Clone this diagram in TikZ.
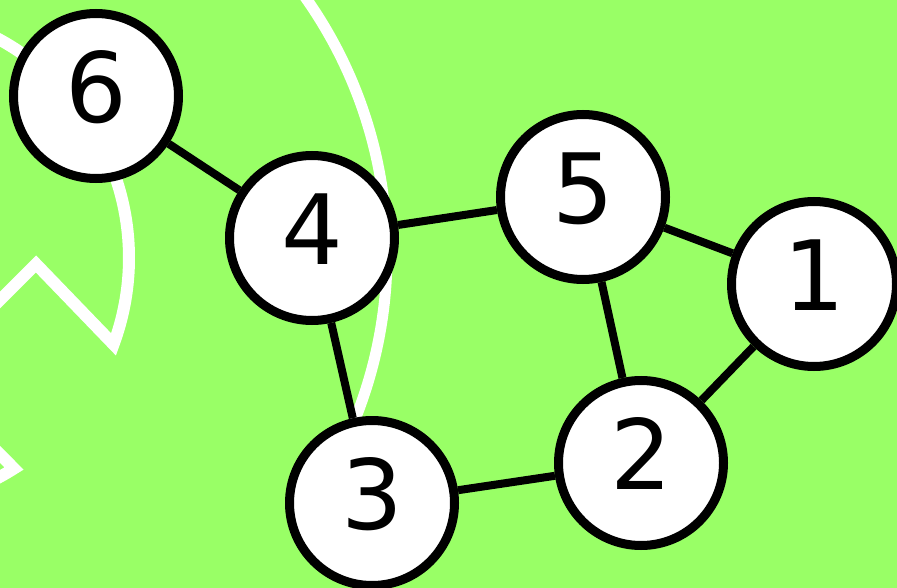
\documentclass[tikz,border=0pt]{standalone}
\usepackage{fontspec}
\setmainfont{DejaVu Sans}
\definecolor{bg}{RGB}{153,255,102}
\tikzset{
  vertex/.style={circle, draw=black, fill=white, line width=9pt, minimum size=165pt,
    inner sep=0pt, text depth=18pt, font=\fontsize{97}{97}\selectfont},
  edge/.style={draw=black, line width=8pt},
  wline/.style={draw=white, line width=12pt, line join=miter}
}
\begin{document}
\begin{tikzpicture}[x=1pt,y=1pt]
\fill[bg] (0,0) rectangle (897,-588);
\useasboundingbox (0,0) rectangle (897,-588);
\begin{scope}
\clip (0,0) rectangle (897,-588);
\draw[wline, line width=11pt] (-57,-254) ++(40:444) arc[start angle=40, end angle=-24, radius=444];
\draw[wline] (-120,-258) ++(70:249) arc[start angle=70, end angle=-20.3, radius=249]
  -- (36,-264) -- (-77,-377) -- (14,-468.5) arc[start angle=-57.6, end angle=-80, radius=249];
\node[vertex] (n6) at (96,-96) {6};
\node[vertex] (n4) at (312,-238) {4};
\node[vertex] (n5) at (583,-197) {5};
\node[vertex] (n1) at (814,-284) {1};
\node[vertex] (n2) at (641,-463) {2};
\node[vertex] (n3) at (372,-503) {3};
\draw[edge] (n6) -- (n4);
\draw[edge] (n4) -- (n5);
\draw[edge] (n4) -- (n3);
\draw[edge] (n5) -- (n1);
\draw[edge] (n5) -- (n2);
\draw[edge] (n1) -- (n2);
\draw[edge] (n3) -- (n2);
\end{scope}
\end{tikzpicture}
\end{document}
